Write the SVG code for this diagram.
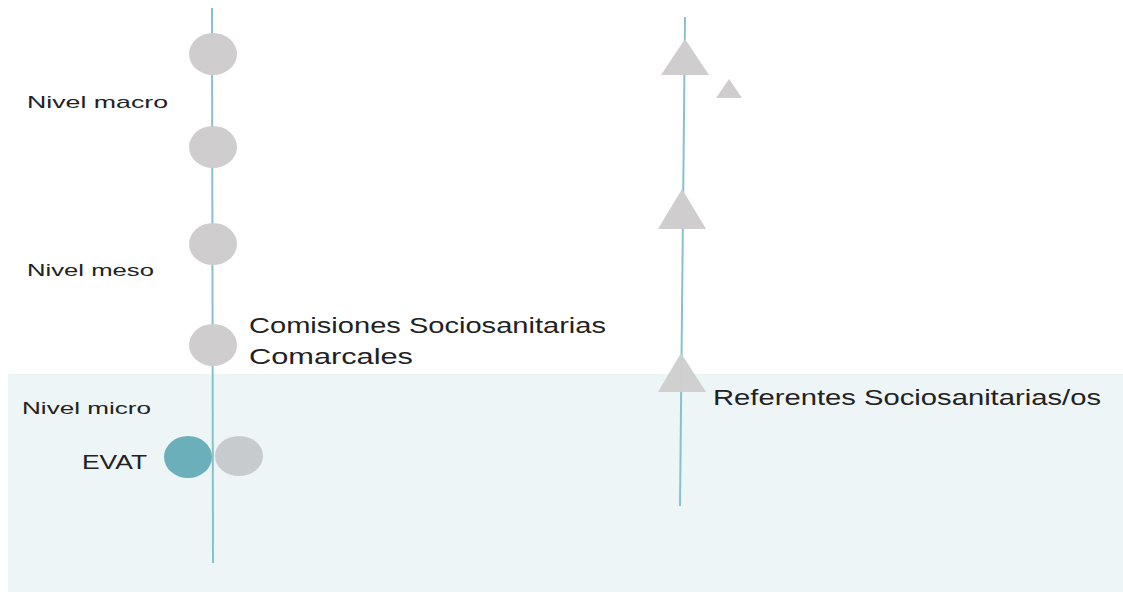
<svg xmlns="http://www.w3.org/2000/svg" width="1123" height="592" viewBox="0 0 1123 592">
<style>
.t{font-family:"Liberation Sans",Arial,sans-serif;fill:#222}
.ax{stroke:#86c2cd;stroke-width:2;fill:none}
.g{fill:#cfcdce}
</style>
<rect x="0" y="0" width="1123" height="592" fill="#ffffff"/>
<rect x="8" y="374" width="1115" height="218" fill="#eef5f7"/>
<g id="connectors">
<line class="ax" x1="212" y1="8" x2="213" y2="563"/>
<line class="ax" x1="685" y1="17" x2="680" y2="506"/>
</g>
<g id="n1"><ellipse class="g" cx="213" cy="54" rx="24" ry="21"/></g>
<g id="n2"><ellipse class="g" cx="213" cy="147" rx="24" ry="21"/></g>
<g id="n3"><ellipse class="g" cx="213" cy="244" rx="24" ry="21"/></g>
<g id="n4"><ellipse class="g" cx="213" cy="345" rx="24" ry="21"/></g>
<g id="evat"><ellipse cx="188" cy="457" rx="24" ry="21" fill="#6aafba"/></g>
<g id="n5"><ellipse cx="239" cy="456" rx="24" ry="20" fill="#c8cbcd"/></g>
<g id="tr1"><polygon class="g" points="685,39 709,75 661,75"/></g>
<g id="tr2"><polygon class="g" points="729,79 742,98 716,98"/></g>
<g id="tr3"><polygon class="g" points="682,189 706,229 658,229"/></g>
<g id="tr4"><polygon class="g" points="681,353 706,392 658,392" fill-opacity="0.95"/></g>
<g id="labels">
<text class="t" x="27" y="108" font-size="17" textLength="141" lengthAdjust="spacingAndGlyphs">Nivel macro</text>
<text class="t" x="27" y="276" font-size="17" textLength="127" lengthAdjust="spacingAndGlyphs">Nivel meso</text>
<text class="t" x="22" y="414" font-size="17" textLength="129" lengthAdjust="spacingAndGlyphs">Nivel micro</text>
<text class="t" x="82" y="469" font-size="21" textLength="65" lengthAdjust="spacingAndGlyphs">EVAT</text>
<text class="t" x="249" y="333" font-size="22" textLength="357" lengthAdjust="spacingAndGlyphs">Comisiones Sociosanitarias</text>
<text class="t" x="249" y="364" font-size="22" textLength="164" lengthAdjust="spacingAndGlyphs">Comarcales</text>
<text class="t" x="713" y="405" font-size="22" textLength="388" lengthAdjust="spacingAndGlyphs">Referentes Sociosanitarias/os</text>
</g>
</svg>
